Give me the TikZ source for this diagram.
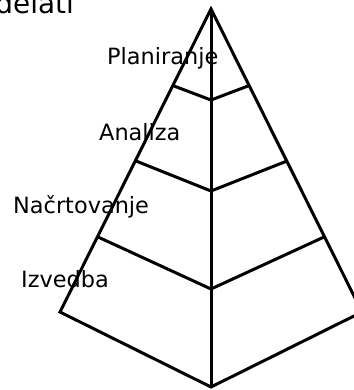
\documentclass[tikz,border=0pt]{standalone}
\usepackage{fontspec}
\setmainfont{DejaVu Sans}
\usetikzlibrary{positioning}
\tikzset{
  edge/.style={line width=3bp, line join=miter, black},
  lab/.style={font=\fontsize{22.5}{27}\selectfont, inner sep=0pt, anchor=base west},
}

\begin{document}
\begin{tikzpicture}[x=1bp, y=-1bp]
  \useasboundingbox (0,0) rectangle (354,390);
  \clip (0,0) rectangle (354,390);

  %% corners of the pyramid
  \coordinate (apex) at (211,9);
  \coordinate (bl) at (60,312);
  \coordinate (br) at (362,312);
  \coordinate (bot) at (211,387);

  %% outline and middle ridge
  \draw[edge] (bl) -- (apex) -- (br) -- (bot) -- cycle;
  \draw[edge] (apex) -- (bot);

  %% layer borders
  \coordinate (l1) at (174,86);  \coordinate (c1) at (211,100); \coordinate (r1) at (248,86);
  \coordinate (l2) at (136,161); \coordinate (c2) at (211,191); \coordinate (r2) at (287,161);
  \coordinate (l3) at (98,237);  \coordinate (c3) at (211,289); \coordinate (r3) at (324,237);
  \draw[edge] (l1) -- (c1) -- (r1);
  \draw[edge] (l2) -- (c2) -- (r2);
  \draw[edge] (l3) -- (c3) -- (r3);

  %% labels
  \node[lab] (plan) at (107,64) {Planiranje};
  \node[lab] (anal) at (99,140) {Analiza};
  \node[lab] (nacr) at (13,213) {Načrtovanje};
  \node[lab] (izv) at (21,287) {Izvedba};
  \node[font=\fontsize{28}{33}\selectfont, inner sep=0pt, anchor=base east] (title) at (74,13) {delati};
\end{tikzpicture}
\end{document}
